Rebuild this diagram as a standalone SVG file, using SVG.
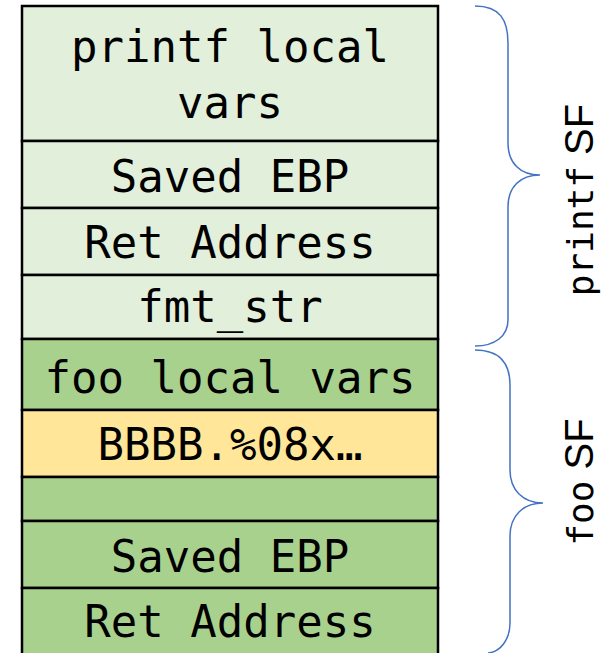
<svg xmlns="http://www.w3.org/2000/svg" width="604" height="653" viewBox="0 0 604 653">
<style>
.cell{stroke:#000;stroke-width:2.5}
.lt{fill:#E2EFDA}
.dk{fill:#A9D18E}
.yl{fill:#FFE699}
.t{font-family:"DejaVu Sans Mono","Liberation Mono",monospace;font-size:44px;fill:#000;text-anchor:middle}
.brace{fill:none;stroke:#4472C4;stroke-width:1.5}
.lbl{font-size:36px;fill:#000;text-anchor:middle}
.mono{font-family:"DejaVu Sans Mono","Liberation Mono",monospace}
.sans{font-family:"Liberation Sans","Noto Sans",sans-serif;font-size:40px}
</style>
<rect width="604" height="653" fill="#fff"/>
<g id="printf-local"><rect class="cell lt" x="22" y="6" width="416" height="135"/><text class="t" x="230" y="62">printf local</text><text class="t" x="230" y="118">vars</text></g>
<g id="printf-ebp"><rect class="cell lt" x="22" y="141" width="416" height="67"/><text class="t" x="230" y="192">Saved EBP</text></g>
<g id="printf-ret"><rect class="cell lt" x="22" y="208" width="416" height="67"/><text class="t" x="230" y="258">Ret Address</text></g>
<g id="fmt-str"><rect class="cell lt" x="22" y="275" width="416" height="64"/><text class="t" x="230" y="322">fmt_str</text></g>
<g id="foo-local"><rect class="cell dk" x="22" y="339" width="416" height="71"/><text class="t" x="230" y="393">foo local vars</text></g>
<g id="buf"><rect class="cell yl" x="22" y="410" width="416" height="67"/><text class="t" x="230" y="460">BBBB.%08x…</text></g>
<g id="empty"><rect class="cell dk" x="22" y="477" width="416" height="44"/></g>
<g id="foo-ebp"><rect class="cell dk" x="22" y="521" width="416" height="67"/><text class="t" x="230" y="572">Saved EBP</text></g>
<g id="foo-ret"><rect class="cell dk" x="22" y="588" width="416" height="67"/><text class="t" x="230" y="637">Ret Address</text></g>
<g id="connectors">
<path class="brace" d="M475,6 C500,6 508,20 508,43 L508,143 C508,163 520,175 540,175 C520,175 508,187 508,207 L508,320 C508,336 495,346 475,346"/>
<path class="brace" d="M475,350 C498,350 510,362 510,385 L510,470 C510,490 523,503 543,503 C523,503 510,516 510,536 L510,623 C510,640 500,652 488,653"/>
</g>
<g id="printf-sf"><text class="lbl" transform="translate(593,200) rotate(-90)"><tspan class="mono">printf</tspan><tspan class="sans"> SF</tspan></text></g>
<g id="foo-sf"><text class="lbl" transform="translate(593,482) rotate(-90)"><tspan class="mono">foo</tspan><tspan class="sans"> SF</tspan></text></g>
</svg>
